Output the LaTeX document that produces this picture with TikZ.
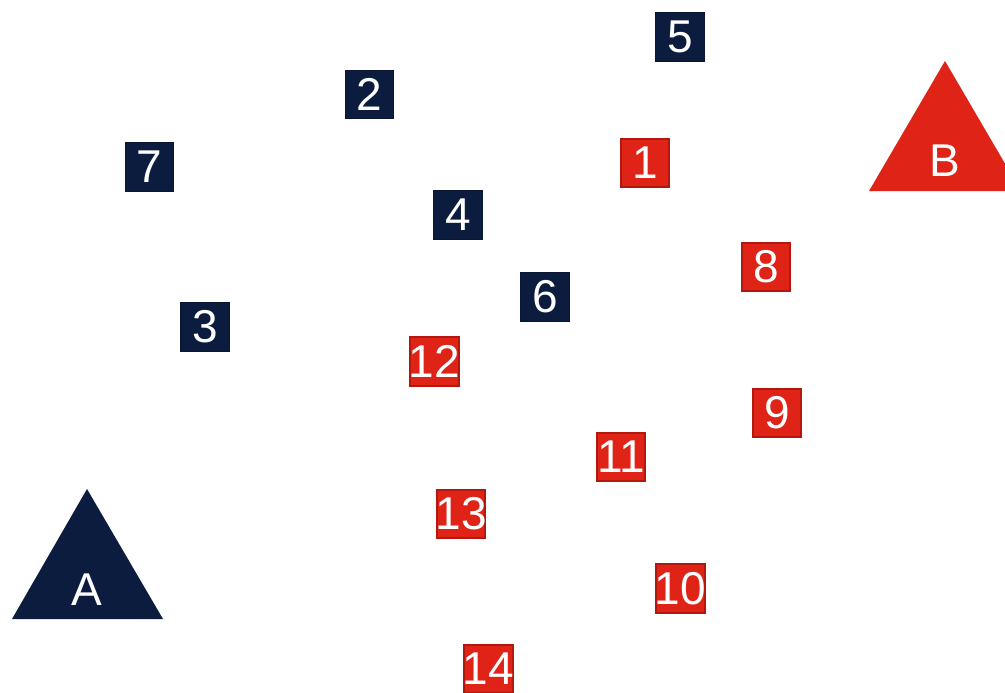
\documentclass[tikz,border=0pt]{standalone}
\usepackage{fontspec}
\setmainfont{Liberation Sans}
\definecolor{navy}{HTML}{0C1C3E}
\definecolor{navyedge}{HTML}{0A1733}
\definecolor{redfill}{HTML}{DF2316}
\definecolor{rededge}{HTML}{B3180E}
\begin{document}
\begin{tikzpicture}[x=0.75pt,y=-0.75pt,
  sq/.style={rectangle,inner sep=0pt,minimum size=36.5pt,text=white,
    font=\fontsize{34.5}{34.5}\selectfont},
  navysq/.style={sq,fill=navy,draw=navyedge,line width=0.75pt},
  redsq/.style={sq,fill=redfill,draw=rededge,line width=1.5pt},
  lbl/.style={text=white,inner sep=0pt,font=\fontsize{34.5}{34.5}\selectfont}]
\useasboundingbox (0,0) rectangle (1005,692);
% triangles
\fill[navy] (87,489) -- (163,619) -- (12,619) -- cycle;
\fill[redfill] (945,61) -- (1021,191) -- (869,191) -- cycle;
\node[lbl] (A) at (87,590) {A};
\node[lbl] (B) at (945,161) {B};
% squares
\newcommand{\sqn}[4]{\node[#1] (n#2) at (#3,#4) {\makebox[0pt][c]{\raisebox{-1.2pt}{#2}}};}
\sqn{navysq}{5}{680}{37}
\sqn{navysq}{2}{369.5}{94.5}
\sqn{navysq}{7}{149.5}{167}
\sqn{navysq}{4}{458}{215}
\sqn{navysq}{6}{545}{297}
\sqn{navysq}{3}{205}{327}
\sqn{redsq}{1}{645}{163}
\sqn{redsq}{8}{766}{267}
\sqn{redsq}{12}{434.5}{361.5}
\sqn{redsq}{9}{777}{413}
\sqn{redsq}{11}{621}{457}
\sqn{redsq}{13}{461}{514}
\sqn{redsq}{10}{680.5}{588.5}
\sqn{redsq}{14}{488.5}{669}
\end{tikzpicture}
\end{document}
